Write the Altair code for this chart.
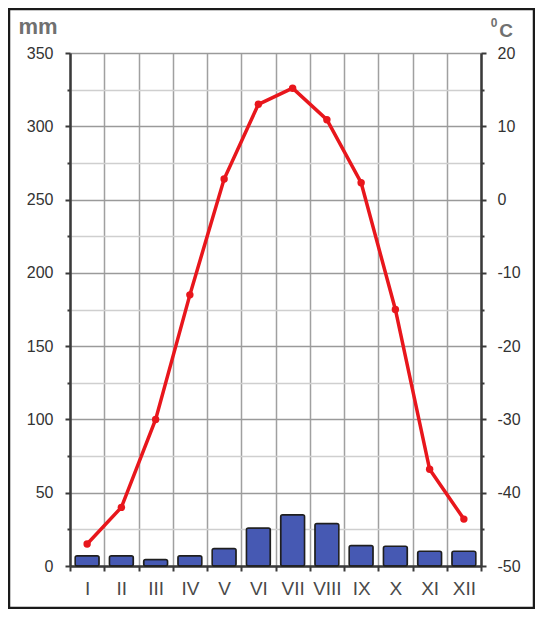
import altair as alt
import pandas as pd

months = ["I", "II", "III", "IV", "V", "VI", "VII", "VIII", "IX", "X", "XI", "XII"]
precip_mm = [7, 7, 4.5, 7, 12, 26, 35, 29, 14, 13.5, 10, 10]
temp_c = [-47, -42, -30, -13, 2.8, 13, 15.2, 10.9, 2.3, -15, -36.8, -43.6]
mm_ticks = list(range(0, 351, 25))
c_ticks = list(range(-50, 21, 5))

df = pd.DataFrame({"month": months, "precip": precip_mm, "temp": temp_c})

W, H = 411, 513
FONT = "Liberation Sans"
DARK = "#3a3a3a"

x_enc = alt.X(
    "month:N", sort=months, title=None,
    scale=alt.Scale(paddingInner=0, paddingOuter=0),
    axis=alt.Axis(
        tickBand="extent", grid=True, gridColor="#a0a0a0", gridWidth=1.5,
        domainColor=DARK, domainWidth=2.5, tickColor=DARK, tickWidth=2, tickSize=5,
        labelFont=FONT, labelFontSize=19, labelColor="#4a4a4a", labelPadding=8,
        labelAngle=0,
    ),
)

bars = alt.Chart(df).mark_bar(
    color="#4659b3", stroke="#1f1f1f", strokeWidth=1.5, cornerRadius=2,
    width=alt.RelativeBandSize(0.7),
).encode(
    x=x_enc,
    y=alt.Y(
        "precip:Q", title=None,
        scale=alt.Scale(domain=[0, 350], nice=False, zero=True),
        axis=alt.Axis(
            orient="left", values=mm_ticks,
            labelExpr="datum.value % 50 == 0 ? toString(datum.value) : ''",
            grid=True,
            gridColor={"condition": {"test": "datum.value % 50 == 0", "value": "#9a9a9a"}, "value": "#cfcfcf"},
            gridWidth=1.5,
            domainColor=DARK, domainWidth=2.5, tickColor=DARK, tickWidth=2,
            tickSize={"condition": {"test": "datum.value % 50 == 0", "value": 5}, "value": 3},
            labelFont=FONT, labelFontSize=16, labelColor="#333333", labelPadding=12,
        ),
    ),
)

line_base = alt.Chart(df).encode(
    x=alt.X("month:N", sort=months),
    y=alt.Y(
        "temp:Q", title=None,
        scale=alt.Scale(domain=[-50, 20], nice=False, zero=False),
        axis=alt.Axis(
            orient="right", values=c_ticks,
            labelExpr="datum.value % 10 == 0 ? toString(datum.value) : ''",
            grid=False,
            domainColor=DARK, domainWidth=2.5, tickColor=DARK, tickWidth=2,
            tickSize={"condition": {"test": "datum.value % 10 == 0", "value": 5}, "value": 3},
            labelFont=FONT, labelFontSize=16, labelColor="#333333", labelPadding=11,
        ),
    ),
)
line = line_base.mark_line(color="#e8161c", strokeWidth=3.5)
pts = line_base.mark_point(color="#e8161c", filled=True, size=55, opacity=1)

one = pd.DataFrame({"k": [0]})
border = alt.Chart(one).mark_rect(fill=None, stroke="#1a1a1a", strokeWidth=2.5).encode(
    x=alt.value(-61), x2=alt.value(464), y=alt.value(-44), y2=alt.value(555)
)
mm_lbl = alt.Chart(one).mark_text(
    text="mm", font=FONT, fontSize=22, fontWeight="bold", color="#707070", align="center", baseline="alphabetic"
).encode(x=alt.value(-32), y=alt.value(-19))
deg_lbl = alt.Chart(one).mark_text(
    text="0", font=FONT, fontSize=12, fontWeight="bold", color="#707070", align="center", baseline="alphabetic"
).encode(x=alt.value(424), y=alt.value(-26))
c_lbl = alt.Chart(one).mark_text(
    text="C", font=FONT, fontSize=19, fontWeight="bold", color="#707070", align="center", baseline="alphabetic"
).encode(x=alt.value(436), y=alt.value(-16))

chart = alt.layer(
    bars, alt.layer(line, pts), border, mm_lbl, deg_lbl, c_lbl
).resolve_scale(y="independent").properties(
    width=W, height=H,
    autosize=alt.AutoSizeParams(type="none"),
    padding={"left": 62, "top": 45, "right": 54, "bottom": 43},
    background="white",
).configure_view(strokeWidth=0)

chart.save("out.html", embed_options={"renderer": "svg", "actions": False})
